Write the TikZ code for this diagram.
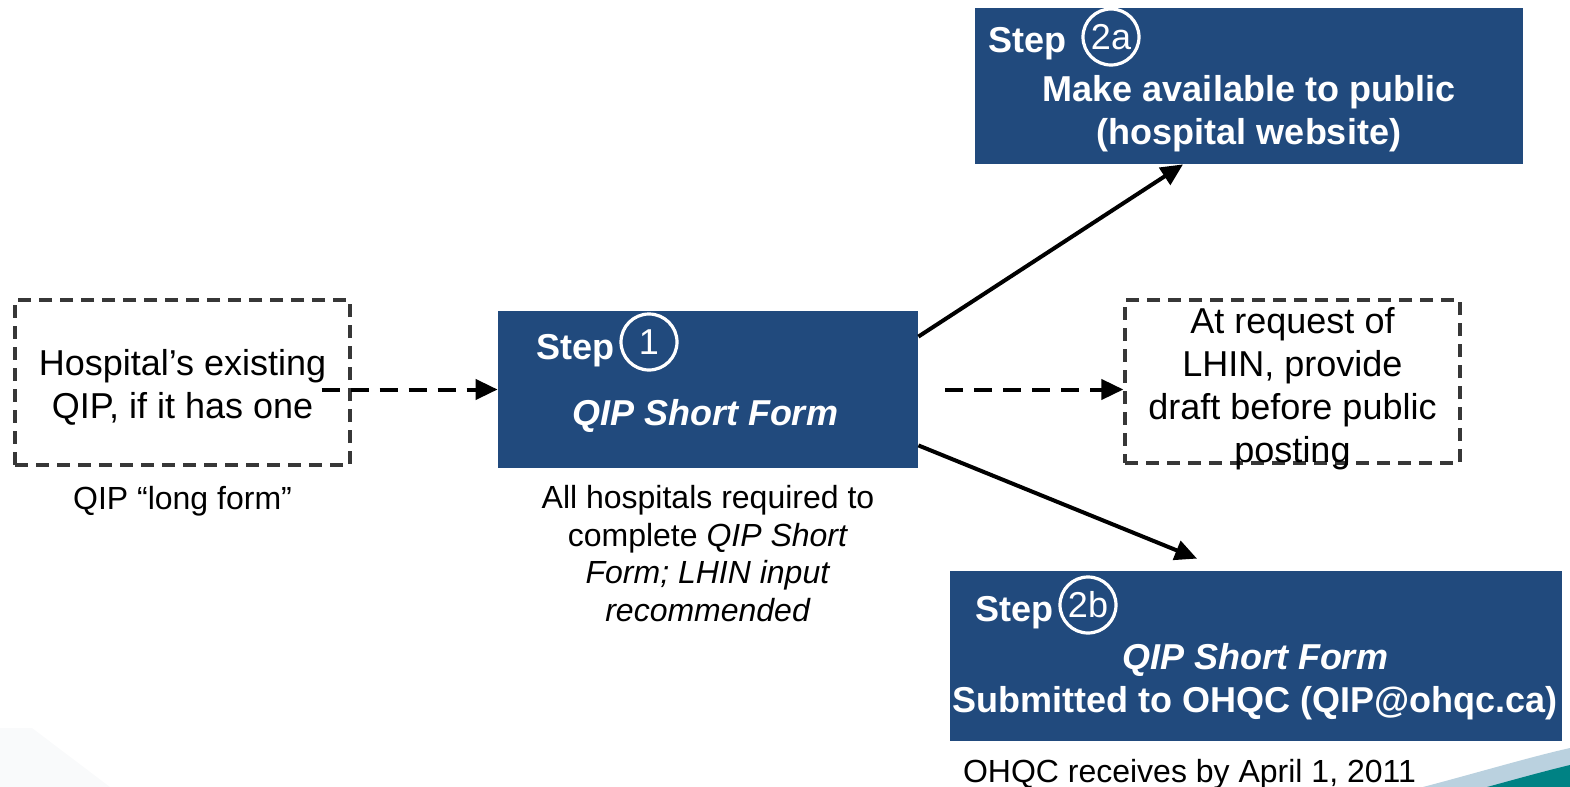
\documentclass[tikz,border=0pt]{standalone}
\usepackage{fontspec}
\setmainfont{Liberation Sans}
\usepackage{xcolor}
\usepackage{tikz}
\usetikzlibrary{positioning, calc, arrows.meta}

\definecolor{qipblue}{RGB}{33,74,125}
\definecolor{boxgray}{RGB}{55,55,55}
\definecolor{swooshlight}{RGB}{186,209,223}
\definecolor{swooshteal}{RGB}{0,130,132}
\definecolor{cornergray}{RGB}{249,250,251}

\begin{document}
\begin{tikzpicture}[x=0.5pt, y=-0.5pt,
	bluebox/.style={fill=qipblue, draw=none, inner sep=0pt},
	dashbox/.style={draw=boxgray, line width=1.6pt, dash pattern=on 6.5pt off 4pt, inner sep=0pt},
	boxtext/.style={align=center, inner sep=0pt, font=\fontsize{18}{21.5}\selectfont},
	stepword/.style={text=white, font=\bfseries\fontsize{18}{21.5}\selectfont, inner sep=0pt, anchor=base west},
	stepnum/.style={circle, draw=white, line width=1.6pt, text=white, minimum size=28pt, inner sep=0pt, font=\fontsize{18}{21.5}\selectfont},
	boxtitle/.style={text=white, align=center, font=\bfseries\fontsize{18}{21.5}\selectfont, inner sep=0pt},
	note/.style={align=center, inner sep=0pt, font=\fontsize{16}{18.7}\selectfont},
	flow/.style={line width=2pt, -{Triangle[length=11pt, width=10pt]}},
	dashflow/.style={flow, dash pattern=on 9pt off 5.5pt}]
				\useasboundingbox (0,0) rectangle (1570,787);
				
				% slide decorations in the corners
				\fill [cornergray] (0,728) -- (32,728) -- (110,787) -- (0,787) -- cycle;
				\fill [swooshlight] (1423,787) .. controls (1480,772) and (1530,757) .. (1570,748) -- (1570,787) -- cycle;
				\fill [swooshteal] (1487,787) .. controls (1520,778) and (1545,771) .. (1570,765) -- (1570,787) -- cycle;
				
				% dashed side boxes
				\node [dashbox, minimum width=167.5pt, minimum height=82.5pt] (hosp) at (182.5,382.5) {};
				\node [boxtext] (hosptext) at (182.5,387) {Hospital’s existing\\QIP, if it has one};
				\node [note, below=9.5pt of hosp] (longform) {QIP “long form”};
				
				\node [dashbox, minimum width=167.5pt, minimum height=81.5pt] (lhin) at (1292.5,381.5) {};
				\node [boxtext] (lhintext) at (1292.5,389) {At request of\\LHIN, provide\\draft before public\\posting};
				
				% step 1
				\node [bluebox, minimum width=210pt, minimum height=78.5pt] (step1) at (708,389.5) {};
				\node [stepword] (step1word) at (536,359) {Step};
				\node [stepnum] (num1) at (649,342) {1};
				\node [boxtitle] (step1title) at (705,416) {\itshape QIP Short Form};
				\node [note, below=8.5pt of step1] (step1note) {All hospitals required to\\complete \textit{QIP Short}\\\textit{Form; LHIN input}\\\textit{recommended}};
				
				% step 2a
				\node [bluebox, minimum width=274pt, minimum height=78pt] (step2a) at (1249,86) {};
				\node [stepword] (step2aword) at (988,53) {Step};
				\node [stepnum] (num2a) at (1111,37) {2a};
				\node [boxtitle] (step2atitle) at (1249,114) {Make available to public\\(hospital website)};
				
				% step 2b
				\node [bluebox, minimum width=306pt, minimum height=85pt] (step2b) at (1256,656) {};
				\node [stepword] (step2bword) at (975,621) {Step};
				\node [stepnum] (num2b) at (1088,605) {2b};
				\node [boxtitle] (step2btitle) at (1255,682) {\itshape QIP Short Form\\Submitted to OHQC (QIP@ohqc.ca)};
				\node [note, anchor=north west, inner sep=0pt] (deadline) at ([xshift=6.5pt, yshift=-9pt]step2b.south west) {OHQC receives by April 1, 2011};
				
				% connectors
				\draw [dashflow] ([xshift=-15pt]hosp.east |- step1.west) -- (step1.west);
				\draw [dashflow] ([xshift=13.5pt]step1.east) -- (lhin.west |- step1.east);
				\draw [flow] ([yshift=-13pt]step1.north east) -- ([xshift=-33pt]step2a.south);
				\draw [flow] ([yshift=11.5pt]step1.south east) -- ([xshift=-29.5pt, yshift=6pt]step2b.north);
\end{tikzpicture}
\end{document}
